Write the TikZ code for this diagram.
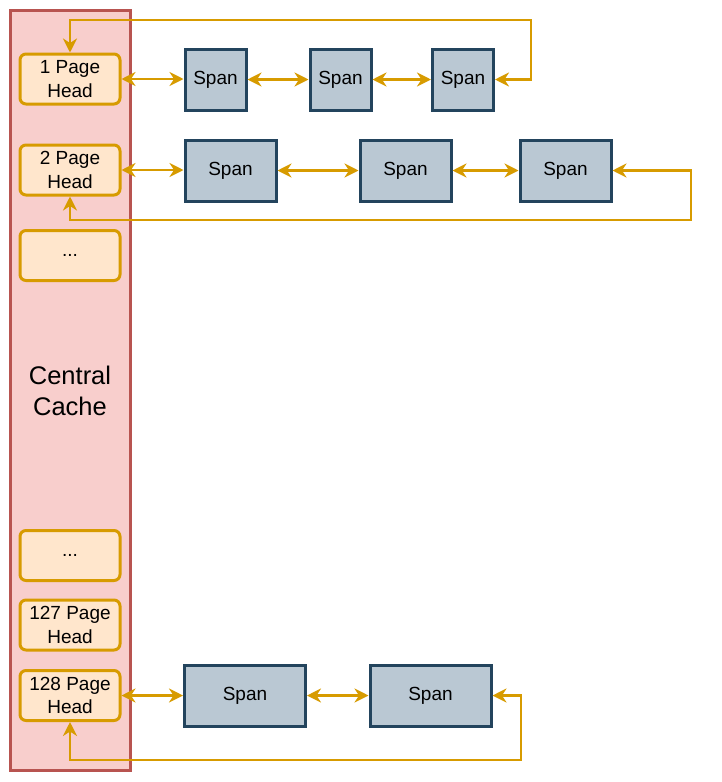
\documentclass[tikz,border=0pt]{standalone}
\usepackage{fontspec}
\setmainfont{Liberation Sans}
\usetikzlibrary{arrows.meta}
\definecolor{cachefill}{HTML}{F8CECC}
\definecolor{cachedraw}{HTML}{B85450}
\definecolor{headfill}{HTML}{FFE6CC}
\definecolor{orangeline}{HTML}{D79B00}
\definecolor{spanfill}{HTML}{BAC8D3}
\definecolor{spandraw}{HTML}{23445D}
\tikzset{
  cachebox/.style={draw=cachedraw, fill=cachefill, line width=3pt, inner sep=0pt, minimum width=120pt, minimum height=760pt},
  headbox/.style={draw=orangeline, fill=headfill, line width=3pt, rounded corners=6pt, inner sep=0pt,
    minimum width=100pt, minimum height=50pt, align=center, font=\fontsize{19}{23.5}\selectfont},
  spanbox/.style={draw=spandraw, fill=spanfill, line width=3pt, inner sep=0pt, minimum height=61pt,
    font=\fontsize{19}{23.5}\selectfont},
  conn/.style={draw=orangeline, line width=2.6pt, {Stealth[length=14pt,width=14pt,inset=4.5pt]}-{Stealth[length=14pt,width=14pt,inset=4.5pt]}}
}
\begin{document}
\begin{tikzpicture}[x=1pt,y=-1pt]
\useasboundingbox (0,0) rectangle (722,782);
% central cache column
\node[cachebox] (cc) at (70.5,390) {};
\node[font=\fontsize{25.5}{31}\selectfont, align=center] (cctext) at (70,391) {Central\\Cache};
% heads
\node[headbox] (h1) at (70,79) {1 Page\\Head};
\node[headbox] (h2) at (70,170) {2 Page\\Head};
\node[headbox] (d1) at (70,255.5) {...};
\node[headbox] (d2) at (70,555.5) {...};
\node[headbox] (h127) at (70,625) {127 Page\\Head};
\node[headbox] (h128) at (70,695.5) {128 Page\\Head};
% spans row 1
\node[spanbox, minimum width=61pt] (s11) at (215.5,79.5) {Span};
\node[spanbox, minimum width=61pt] (s12) at (340.5,79.5) {Span};
\node[spanbox, minimum width=61pt] (s13) at (463,79.5) {Span};
% spans row 2
\node[spanbox, minimum width=91pt] (s21) at (230.5,170.5) {Span};
\node[spanbox, minimum width=91pt] (s22) at (405.5,170.5) {Span};
\node[spanbox, minimum width=91pt] (s23) at (565.5,170.5) {Span};
% spans row 3
\node[spanbox, minimum width=121pt] (s31) at (245,695.5) {Span};
\node[spanbox, minimum width=121pt] (s32) at (430.5,695.5) {Span};
% connectors row 1
\draw[conn] (h1.east) -- (s11.west |- h1.east);
\draw[conn] (s11.east) -- (s12.west);
\draw[conn] (s12.east) -- (s13.west);
\coordinate (c1) at (531,20);
\draw[conn] (h1.north) |- (c1) |- (s13.east);
% connectors row 2
\draw[conn] (h2.east) -- (s21.west |- h2.east);
\draw[conn] (s21.east) -- (s22.west);
\draw[conn] (s22.east) -- (s23.west);
\coordinate (c2) at (691,220);
\draw[conn] (s23.east) -| (c2) -| (h2.south);
% connectors row 3
\draw[conn] (h128.east) -- (s31.west |- h128.east);
\draw[conn] (s31.east) -- (s32.west);
\coordinate (c3) at (521,760);
\draw[conn] (s32.east) -| (c3) -| (h128.south);
\end{tikzpicture}
\end{document}
